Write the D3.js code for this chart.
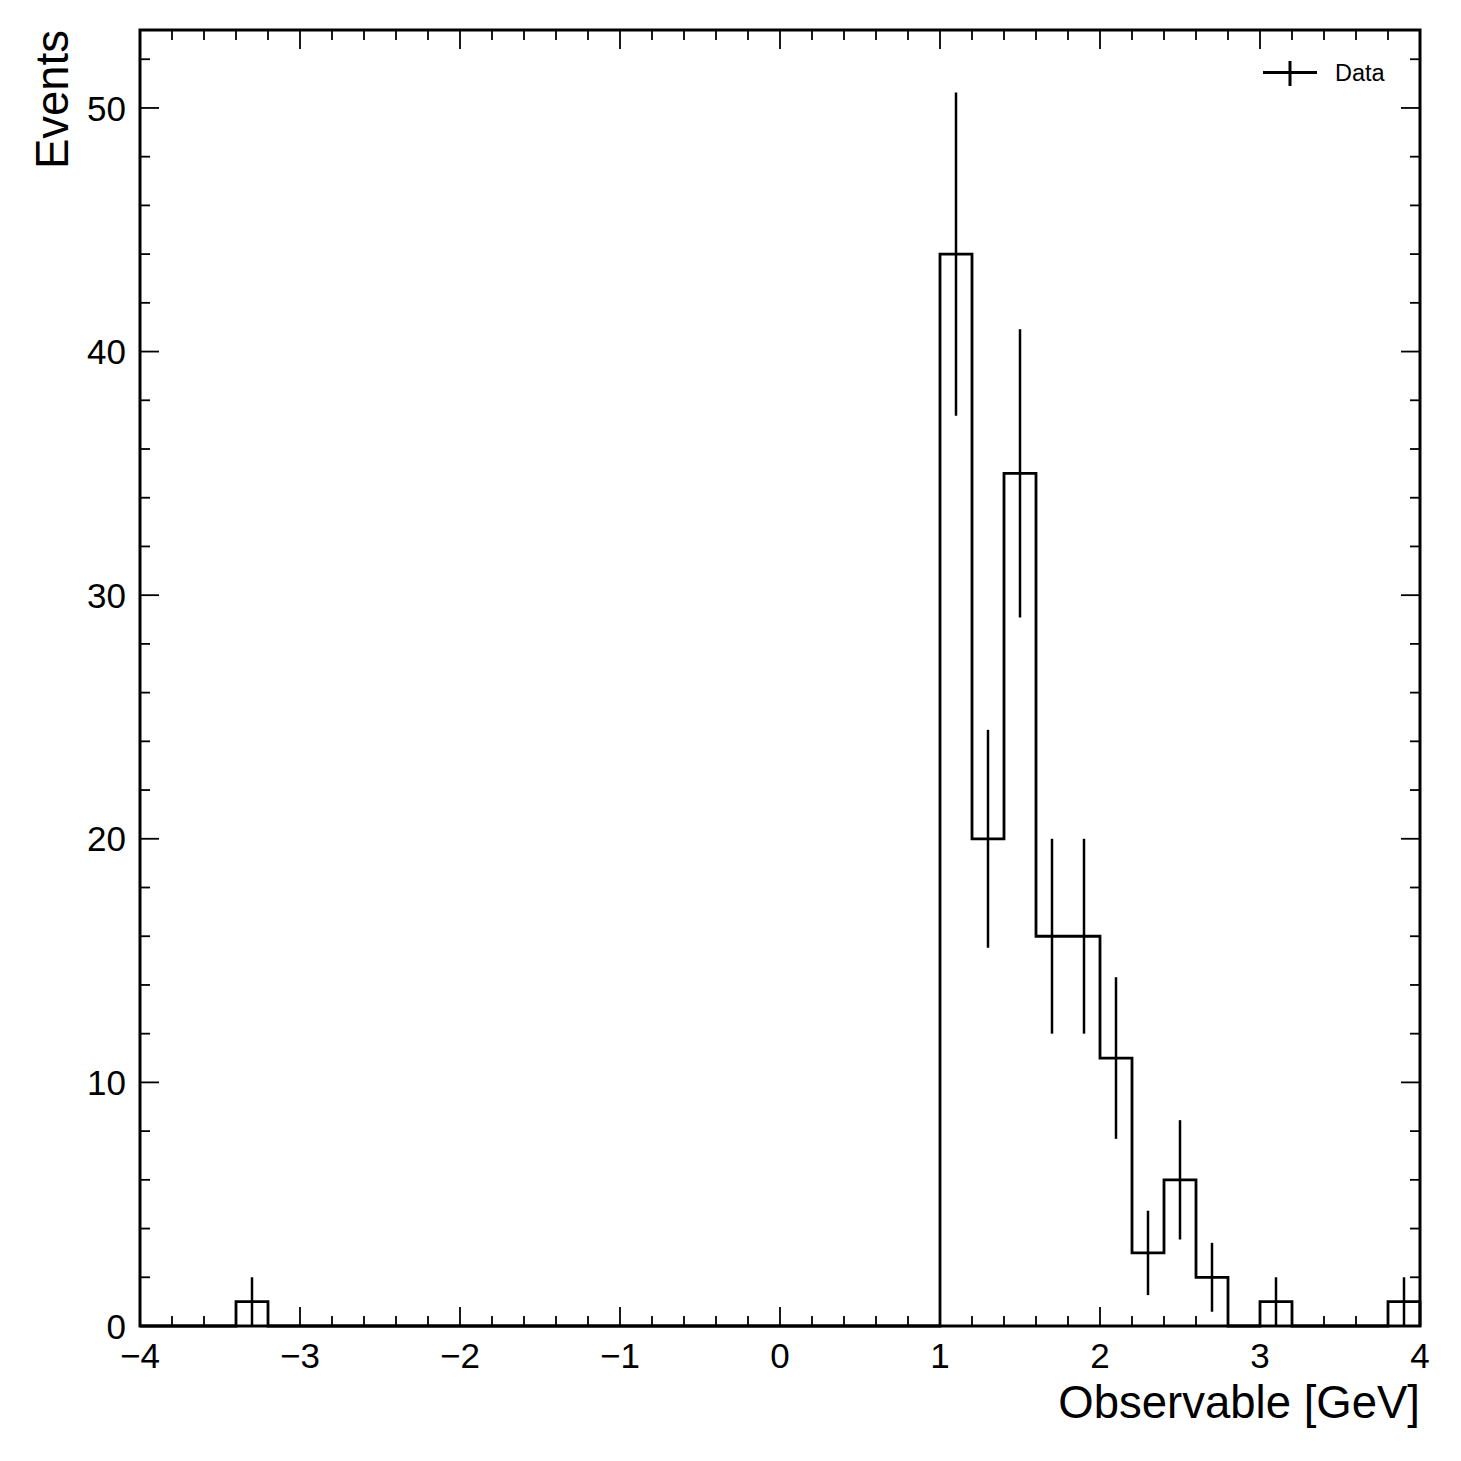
<!DOCTYPE html>
<html>
<head>
<meta charset="utf-8">
<script src="https://cdn.jsdelivr.net/npm/d3@7"></script>
<style>
  html, body { margin: 0; padding: 0; background: #fff; }
  svg { display: block; }
  text { font-family: "Liberation Sans", Arial, Helvetica, sans-serif; fill: #000; }
</style>
</head>
<body>
<script>
// ---- Data ----
const binEdgesRange = [-4, 4];   // histogram range
const binCount = 40;             // number of bins (width 0.2)
const counts = [
  0, 0, 0, 1, 0, 0, 0, 0, 0, 0,   // -4.0 .. -2.0
  0, 0, 0, 0, 0, 0, 0, 0, 0, 0,   // -2.0 .. 0.0
  0, 0, 0, 0, 0, 44, 20, 35, 16, 16, // 0.0 .. 2.0
  11, 3, 6, 2, 0, 1, 0, 0, 0, 1   // 2.0 .. 4.0
];
const xTickLabels = ["\u22124", "\u22123", "\u22122", "\u22121", "0", "1", "2", "3", "4"];
const xTickValues = [-4, -3, -2, -1, 0, 1, 2, 3, 4];
const yTickValues = [0, 10, 20, 30, 40, 50];
const yMax = 53.2;
const legendLabel = "Data";
const xLabel = "Observable [GeV]";
const yLabel = "Events";

// ---- Layout ----
const W = 1461, H = 1461;
const mLeft = 140, mRight = 1420, mTop = 30, mBottom = 1326;

const svg = d3.select("body").append("svg").attr("width", W).attr("height", H);

const x = d3.scaleLinear().domain(binEdgesRange).range([mLeft, mRight]);
const y = d3.scaleLinear().domain([0, yMax]).range([mBottom, mTop]);

const binW = (binEdgesRange[1] - binEdgesRange[0]) / binCount;
const edges = d3.range(binCount + 1).map(i => binEdgesRange[0] + i * binW);

// ---- Histogram step ----
const pts = [];
pts.push([edges[0], 0]);
counts.forEach((c, i) => { pts.push([edges[i], c]); pts.push([edges[i + 1], c]); });
pts.push([edges[binCount], 0]);
const line = d3.line().x(d => x(d[0])).y(d => y(d[1]));
svg.append("path").attr("d", line(pts)).attr("fill", "none")
  .attr("stroke", "#000").attr("stroke-width", 2.8).attr("stroke-linejoin", "miter");

// ---- Error bars ----
const errs = counts.map((c, i) => ({ c, xc: edges[i] + binW / 2 })).filter(d => d.c > 0);
svg.append("g").selectAll("line").data(errs).join("line")
  .attr("x1", d => x(d.xc)).attr("x2", d => x(d.xc))
  .attr("y1", d => y(Math.max(0, d.c - Math.sqrt(d.c))))
  .attr("y2", d => y(d.c + Math.sqrt(d.c)))
  .attr("stroke", "#000").attr("stroke-width", 2.5);

// ---- Axes (ticks inside, on all four sides) ----
const majorLen = 19, minorLen = 10, tickW = 1.8;
const xMinor = d3.range(-4, 4.0001, 0.2).filter(v => Math.abs(v - Math.round(v)) > 1e-6);
const yMinor = d3.range(0, yMax, 2).filter(v => v % 10 !== 0);

function xTicks(vals, len, g) {
  vals.forEach(v => {
    g.append("line").attr("x1", x(v)).attr("x2", x(v)).attr("y1", mBottom).attr("y2", mBottom - len)
      .attr("stroke", "#000").attr("stroke-width", tickW);
    g.append("line").attr("x1", x(v)).attr("x2", x(v)).attr("y1", mTop).attr("y2", mTop + len)
      .attr("stroke", "#000").attr("stroke-width", tickW);
  });
}
function yTicks(vals, len, g) {
  vals.forEach(v => {
    g.append("line").attr("x1", mLeft).attr("x2", mLeft + len).attr("y1", y(v)).attr("y2", y(v))
      .attr("stroke", "#000").attr("stroke-width", tickW);
    g.append("line").attr("x1", mRight).attr("x2", mRight - len).attr("y1", y(v)).attr("y2", y(v))
      .attr("stroke", "#000").attr("stroke-width", tickW);
  });
}
const tg = svg.append("g");
xTicks(xTickValues, majorLen, tg);
xTicks(xMinor, minorLen, tg);
yTicks(yTickValues, majorLen, tg);
yTicks(yMinor, minorLen, tg);

// Tick labels
svg.append("g").selectAll("text").data(xTickValues).join("text")
  .attr("x", d => x(d)).attr("y", 1368).attr("text-anchor", "middle")
  .attr("font-size", 35).text((d, i) => xTickLabels[i]);
svg.append("g").selectAll("text").data(yTickValues).join("text")
  .attr("x", 126).attr("y", d => y(d)).attr("dy", "0.36em").attr("text-anchor", "end")
  .attr("font-size", 35).text(d => String(d));

// Frame
svg.append("rect").attr("x", mLeft).attr("y", mTop).attr("width", mRight - mLeft).attr("height", mBottom - mTop)
  .attr("fill", "none").attr("stroke", "#000").attr("stroke-width", 3);

// Axis labels
svg.append("text").attr("x", mRight).attr("y", 1418).attr("text-anchor", "end")
  .attr("font-size", 45.5).text(xLabel);
svg.append("text").attr("transform", `translate(68,${mTop}) rotate(-90)`).attr("text-anchor", "end")
  .attr("font-size", 45.5).text(yLabel);

// Legend
const lg = svg.append("g");
lg.append("line").attr("x1", 1263).attr("x2", 1317).attr("y1", 72.5).attr("y2", 72.5)
  .attr("stroke", "#000").attr("stroke-width", 3);
lg.append("line").attr("x1", 1290).attr("x2", 1290).attr("y1", 61).attr("y2", 86)
  .attr("stroke", "#000").attr("stroke-width", 3);
lg.append("text").attr("x", 1335).attr("y", 81).attr("font-size", 23.5).text(legendLabel);
</script>
</body>
</html>
